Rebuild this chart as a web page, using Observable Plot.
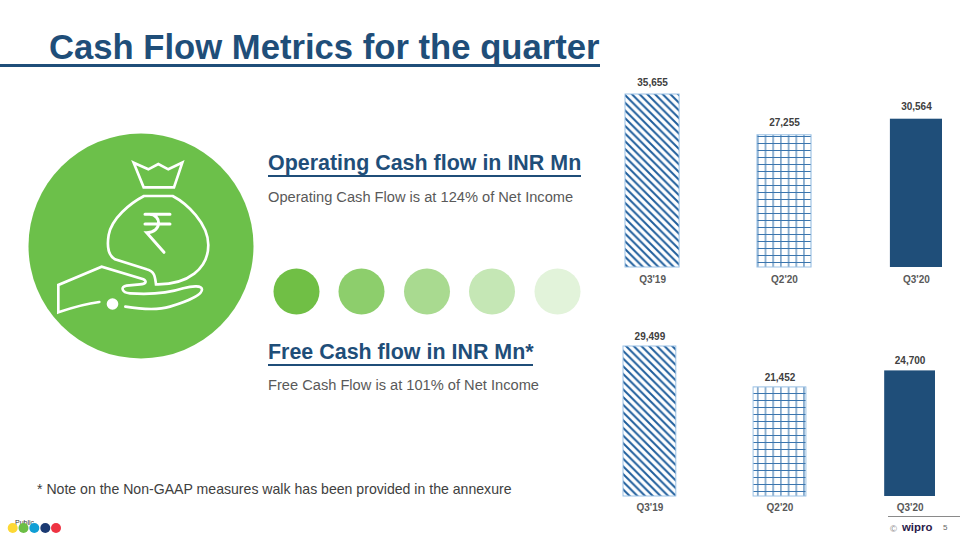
<!DOCTYPE html>
<html>
<head>
<meta charset="utf-8">
<script src="https://cdn.jsdelivr.net/npm/d3@7"></script>
<script src="https://cdn.jsdelivr.net/npm/@observablehq/plot@0.6"></script>
<style>
html,body{margin:0;padding:0;background:#fff;overflow:hidden}
#page{position:relative;width:960px;height:540px;font-family:"Liberation Sans",Arial,sans-serif;overflow:hidden}
.t{position:absolute;white-space:nowrap;margin:0}
h1.t{left:49px;top:26px;font-size:34.65px;line-height:42px;font-weight:700;color:#1F4E79}
.rule{position:absolute;background:#1F4E79}
.h{font-size:21.45px;line-height:26px;font-weight:700;color:#1F4E79;left:268px}
.s{font-size:14.65px;line-height:18px;color:#595959;left:268px}
.chart{position:absolute}
.chart svg{display:block;background:transparent}
#art{position:absolute;left:0;top:0}
</style>
</head>
<body>
<div id="page">
<svg id="art" width="960" height="540" viewBox="0 0 960 540">
  <defs>
    <pattern id="hatch" patternUnits="userSpaceOnUse" width="7.7" height="7.7">
      <path d="M-2,5.7L2,9.7M0,0L7.7,7.7M5.7,-2L9.7,2" stroke="#1F5E9C" stroke-width="2" fill="none"/>
    </pattern>
    <pattern id="grid" patternUnits="userSpaceOnUse" width="7.7" height="7">
      <path d="M3.8,0V7M0,3.5H7.7" stroke="#3A75AE" stroke-width="1.1" fill="none"/>
    </pattern>
  </defs>
  <circle cx="141" cy="246" r="112.5" fill="#6CC04A"/>
  <g transform="translate(20,120) scale(0.3333)" fill="none" stroke="#fff" stroke-width="8" stroke-linejoin="miter" stroke-linecap="round">
    <path d="M341,128L385,148L415,132L445,148L487,128L462,202H371Z"/>
    <path d="M372,228H458C500,250 565,310 565,375C565,445 505,495 408,493C405,470 405,455 380,448L285,418C262,405 262,370 266,345C275,295 330,250 372,228Z"/>
    <path d="M238,546C190,552 150,565 115,577V495L245,440L370,478C382,484 378,492 360,493L320,497C300,500 305,518 330,520C390,524 450,518 490,505C520,497 545,497 546,508C547,525 500,545 450,560C410,572 360,567 316,560"/>
    <path d="M375,283H450M375,312H450M388,283C425,283 428,336 380,338L432,397" stroke-width="9"/>
  </g>
  <circle cx="112.500" cy="304" r="5.8" fill="#fff"/>
  <circle cx="296.500" cy="291.500" r="23" fill="#70BF45"/>
  <circle cx="361.500" cy="291.500" r="23" fill="#8DCE6C"/>
  <circle cx="427" cy="291.500" r="23" fill="#A9DA90"/>
  <circle cx="492" cy="291.500" r="23" fill="#C5E7B5"/>
  <circle cx="557.500" cy="291.500" r="23" fill="#E2F3DA"/>
  <text x="15" y="525" font-size="7" fill="#333">Public</text>
  <circle cx="12.700" cy="528" r="5" fill="#FDD835"/>
  <circle cx="23.500" cy="528" r="5" fill="#6CBE45"/>
  <circle cx="34.300" cy="528" r="5" fill="#0F9ED5"/>
  <circle cx="45.300" cy="528" r="5" fill="#1B3A72"/>
  <circle cx="56" cy="528" r="5" fill="#EE3342"/>
</svg>
<h1 class="t">Cash Flow Metrics for the quarter</h1>
<div class="rule" style="left:0;top:64px;width:600px;height:3px"></div>
<div class="t h" style="top:150px">Operating Cash flow in INR Mn</div>
<div class="rule" style="left:268px;top:175px;width:313px;height:2px"></div>
<div class="t s" style="top:188px">Operating Cash Flow is at 124% of Net Income</div>
<div class="t h" style="top:339px">Free Cash flow in INR Mn*</div>
<div class="rule" style="left:268px;top:364px;width:265px;height:2px"></div>
<div class="t s" style="top:376px">Free Cash Flow is at 101% of Net Income</div>
<div class="t" style="left:37px;top:480px;font-size:14.1px;line-height:18px;color:#404040">* Note on the Non-GAAP measures walk has been provided in the annexure</div>
<div class="rule" style="left:888px;top:516px;width:72px;height:1px;background:#8a8a8a"></div>
<div class="t" style="left:890px;top:523px;font-size:9.5px;line-height:11px;color:#888">©</div>
<div class="t" style="left:902px;top:520px;font-size:11.4px;line-height:15px;font-weight:700;color:#2A1A4A">wipro</div>
<div class="t" style="left:943px;top:523px;font-size:8px;line-height:10px;color:#666">5</div>
<div class="chart" id="c1" style="left:600px;top:70px"></div>
<div class="chart" id="c2" style="left:600px;top:320px"></div>
</div>
<script>
const quarters = ["Q3'19", "Q2'20", "Q3'20"];
const operatingCashFlow = [35655, 27255, 30564];
const freeCashFlow = [29499, 21452, 24700];
const barFills = ["url(#hatch)", "url(#grid)", "#1F4E79"];
const fmt = d3.format(",");

function barChart(values, o) {
  const rows = quarters.map((quarter, i) => ({quarter, value: values[i]}));
  const patterned = rows.filter(d => d.quarter !== quarters[2]);
  const solid = rows.filter(d => d.quarter === quarters[2]);
  return Plot.plot({
    width: 360,
    height: o.height,
    marginLeft: o.left,
    marginRight: o.right,
    marginTop: o.top,
    marginBottom: o.bottom,
    style: {fontFamily: '"Liberation Sans",Arial,sans-serif', background: "transparent"},
    x: {domain: quarters, paddingInner: o.padding, paddingOuter: 0, round: false, label: null},
    y: {domain: [0, d3.max(values)], axis: null},
    color: {domain: quarters, range: barFills},
    marks: [
      Plot.barY(patterned, {x: "quarter", y: "value", fill: "quarter", stroke: "#9CC2E5", strokeWidth: 1}),
      Plot.barY(solid, {x: "quarter", y: "value", fill: "quarter", insetLeft: 1, insetRight: 1}),
      Plot.text(rows, {x: "quarter", y: "value", text: d => fmt(d.value), dy: o.labelDy, fontSize: 10, fontWeight: 700, fill: "#404040"}),
      Plot.axisX({tickSize: 0, tickPadding: o.tickPadding, fontSize: 10, fontWeight: 700, color: "#595959", label: null})
    ]
  });
}

document.getElementById("c1").appendChild(barChart(operatingCashFlow, {height: 220, left: 25, right: 17, top: 24, bottom: 23, padding: 0.59, labelDy: -12, tickPadding: 8}));
document.getElementById("c2").appendChild(barChart(freeCashFlow, {height: 220, left: 23, right: 24, top: 26, bottom: 44, padding: 0.594, labelDy: -10, tickPadding: 7}));
</script>
</body>
</html>
